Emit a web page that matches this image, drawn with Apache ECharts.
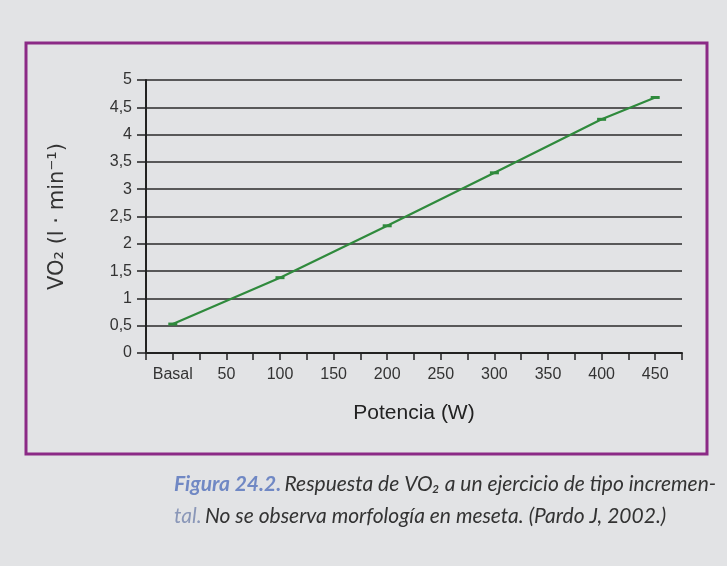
<!DOCTYPE html>
<html><head><meta charset="utf-8">
<script src="https://cdn.jsdelivr.net/npm/echarts@6/dist/echarts.min.js"></script>
<style>html,body{margin:0;padding:0;background:#e2e3e5}#c{width:727px;height:566px}</style>
</head><body><div id="c"></div>
<script>
var potencia = [0, 100, 200, 300, 400, 450];
var vo2 = [0.53, 1.38, 2.33, 3.30, 4.28, 4.68];
var xTickLabels = ['Basal', '50', '100', '150', '200', '250', '300', '350', '400', '450'];
var yTickLabels = ['0', '0,5', '1', '1,5', '2', '2,5', '3', '3,5', '4', '4,5', '5'];

var chart = echarts.init(document.getElementById('c'));
var data = potencia.map(function (p, i) { return [p, vo2[i]]; });
chart.setOption({
  backgroundColor: '#e2e3e5',
  animation: false,
  grid: { left: 146, top: 80, width: 536, height: 273 },
  xAxis: {
    type: 'value', min: -25, max: 475, interval: 25,
    name: 'Potencia (W)', nameLocation: 'middle', nameGap: 50,
    nameTextStyle: { fontSize: 21, color: '#222', fontFamily: 'Liberation Sans' },
    axisLine: { onZero: false, lineStyle: { color: '#222', width: 2 } },
    axisTick: { show: true, length: 7, lineStyle: { color: '#222', width: 1.5 } },
    splitLine: { show: false },
    axisLabel: {
      margin: 14, fontSize: 16, color: '#333', fontFamily: 'Liberation Sans',
      showMinLabel: true, showMaxLabel: true,
      formatter: function (v) {
        if (v < 0 || v % 50 !== 0) return '';
        var idx = v / 50;
        return xTickLabels[idx] || '';
      }
    }
  },
  yAxis: {
    type: 'value', min: 0, max: 5, interval: 0.5,
    name: 'VO\u2082 (l \u00b7 min\u207b\u00b9)', nameLocation: 'middle', nameGap: 78,
    nameTextStyle: { fontSize: 21, color: '#333', fontFamily: 'DejaVu Sans' },
    axisLine: { show: true, onZero: false, lineStyle: { color: '#222', width: 2 } },
    axisTick: { show: true, length: 9, lineStyle: { color: '#222', width: 1.5 } },
    splitLine: { show: true, lineStyle: { color: '#2a2a2a', width: 1.5 } },
    axisLabel: {
      margin: 14, fontSize: 16, color: '#333', fontFamily: 'Liberation Sans',
      formatter: function (v) { return yTickLabels[Math.round(v * 2)]; }
    }
  },
  series: [{
    type: 'line', data: data,
    lineStyle: { color: '#2f8a3c', width: 2.2 },
    itemStyle: { color: '#2f8a3c' },
    symbol: 'rect', symbolSize: [9, 3], showSymbol: true
  }],
  graphic: [
    { type: 'rect', shape: { x: 26, y: 43, width: 681, height: 411 },
      style: { fill: null, stroke: '#8b2a86', lineWidth: 3 }, z: 100 },
    { type: 'text', left: 174, top: 474, z: 100,
      style: {
        text: '{b|Figura 24.2.} {n|Respuesta de VO\u2082 a un ejercicio de tipo incremen-}',
        rich: {
          b: { fontSize: 21, fontStyle: 'italic', fontWeight: 'bold', fill: '#7088c4', fontFamily: 'Lato' },
          n: { fontSize: 21, fontStyle: 'italic', fill: '#333', fontFamily: 'Lato' }
        }
      } },
    { type: 'text', left: 174, top: 506, z: 100,
      style: {
        text: '{l|tal.} {n|No se observa morfología en meseta. (Pardo J, 2002.)}',
        rich: {
          l: { fontSize: 21, fontStyle: 'italic', fill: '#8a97b8', fontFamily: 'Lato' },
          n: { fontSize: 21, fontStyle: 'italic', fill: '#333', fontFamily: 'Lato' }
        }
      } }
  ]
});
</script></body></html>
